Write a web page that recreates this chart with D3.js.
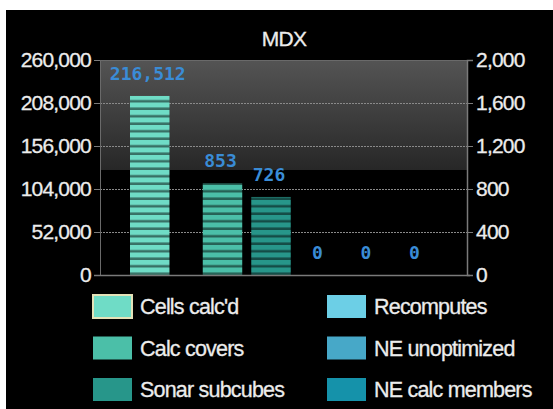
<!DOCTYPE html>
<html>
<head>
<meta charset="utf-8">
<script src="https://cdn.jsdelivr.net/npm/d3@7/dist/d3.min.js"></script>
<style>
  html, body { margin: 0; padding: 0; background: #fff; }
  svg { display: block; }
</style>
</head>
<body>
<svg id="chart" width="553" height="409"></svg>
<script>
// MDX query counters: one series on the left axis, the rest on the right axis
const seriesNames = ["Cells calc'd", "Calc covers", "Sonar subcubes", "Recomputes", "NE unoptimized", "NE calc members"];
const seriesValues = [216512, 853, 726, 0, 0, 0];
const seriesAxis = ["left", "right", "right", "right", "right", "right"];
const seriesColors = ["#6fdcc6", "#4bbfa8", "#27968a", "#6ccfe6", "#47a8c8", "#1592aa"];
const valueLabels = ["216,512", "853", "726", "0", "0", "0"];
const leftTicks = [0, 52000, 104000, 156000, 208000, 260000];
const rightTicks = [0, 400, 800, 1200, 1600, 2000];
const chartTitle = "MDX";

const W = 553, H = 409;
const plot = { left: 100, right: 467, top: 60, bottom: 275 };
const svg = d3.select("#chart");

// frame: white edge on top/left, black canvas
svg.append("rect").attr("width", W).attr("height", H).attr("fill", "#fff");
svg.append("rect").attr("x", 6).attr("y", 10).attr("width", W - 6).attr("height", H - 10).attr("fill", "#000");

const defs = svg.append("defs");
const bg = defs.append("linearGradient").attr("id", "gloss").attr("x1", 0).attr("y1", 0).attr("x2", 0).attr("y2", 1);
bg.append("stop").attr("offset", "0%").attr("stop-color", "#545454");
bg.append("stop").attr("offset", "100%").attr("stop-color", "#272727");

// striped fills for bars
seriesColors.forEach((c, i) => {
  const p = defs.append("pattern")
    .attr("id", "stripe" + i)
    .attr("patternUnits", "userSpaceOnUse")
    .attr("width", 10).attr("height", 7.5)
    .attr("patternTransform", `translate(0,${plot.bottom})`);
  p.append("rect").attr("width", 10).attr("height", 7.5).attr("fill", c);
  p.append("rect").attr("y", 5).attr("width", 10).attr("height", 2.5)
    .attr("fill", d3.color(c).darker(1.9));
});

// glossy upper band of the plot area
svg.append("rect")
  .attr("x", plot.left).attr("y", plot.top)
  .attr("width", plot.right - plot.left).attr("height", 110)
  .attr("fill", "url(#gloss)");

const yL = d3.scaleLinear().domain([0, 260000]).range([plot.bottom, plot.top]);
const yR = d3.scaleLinear().domain([0, 2000]).range([plot.bottom, plot.top]);

const x = d3.scaleBand().domain(seriesNames)
  .range([plot.left + 30, plot.right - 55])
  .paddingInner(0.186).paddingOuter(0);
const barX = (name, i) => x(name) + (seriesAxis[i] === "right" ? x.step() / 2 : 0);

// dotted gridlines
svg.append("g").selectAll("line").data(leftTicks.slice(1, -1)).join("line")
  .attr("x1", plot.left - 6).attr("x2", plot.right + 5)
  .attr("y1", d => yL(d) + 0.5).attr("y2", d => yL(d) + 0.5)
  .attr("stroke", "#8a8a8a").attr("stroke-width", 1)
  .attr("stroke-dasharray", "2,1");

// plot frame
svg.append("line").attr("x1", plot.left).attr("x2", plot.right).attr("y1", plot.top + 0.5).attr("y2", plot.top + 0.5)
  .attr("stroke", "#6a6a6a");
svg.append("line").attr("x1", plot.left + 0.5).attr("x2", plot.left + 0.5).attr("y1", plot.top).attr("y2", plot.bottom)
  .attr("stroke", "#6a6a6a");

// bars
const labelFont = "'DejaVu Sans Mono', 'Liberation Mono', monospace";
seriesNames.forEach((name, i) => {
  const y = seriesAxis[i] === "left" ? yL : yR;
  const v = seriesValues[i];
  const bx = barX(name, i);
  svg.append("rect")
    .attr("x", bx).attr("y", y(v))
    .attr("width", x.bandwidth()).attr("height", y(0) - y(v))
    .attr("fill", `url(#stripe${i})`);
  svg.append("text")
    .attr("x", bx + x.bandwidth() / 2 - 2)
    .attr("y", y(v) - 16)
    .attr("text-anchor", "middle")
    .attr("font-family", labelFont)
    .attr("font-size", 18)
    .attr("font-weight", "bold")
    .attr("fill", "#3a8cd6")
    .text(valueLabels[i]);
});

// axes
const tickFont = "'Liberation Sans', Arial, sans-serif";
const axL = svg.append("g").attr("transform", `translate(${plot.left},0)`)
  .call(d3.axisLeft(yL).tickValues(leftTicks).tickFormat(d3.format(",")).tickSize(6).tickPadding(3));
const axR = svg.append("g").attr("transform", `translate(${plot.right},0)`)
  .call(d3.axisRight(yR).tickValues(rightTicks).tickFormat(d3.format(",")).tickSize(6).tickPadding(3));
[axL, axR].forEach(ax => {
  ax.select(".domain").attr("stroke", "#7a7a7a").attr("stroke-width", 1.5);
  ax.selectAll(".tick line").attr("stroke", "#7a7a7a");
  ax.selectAll(".tick text")
    .attr("font-family", tickFont).attr("font-size", 21)
    .attr("fill", "#ececec").attr("letter-spacing", "-0.8px")
    .attr("stroke", "#ececec").attr("stroke-width", 0.3);
});
axL.select(".domain").attr("stroke", "none");

// baseline
svg.append("line").attr("x1", plot.left - 6).attr("x2", plot.right + 3)
  .attr("y1", plot.bottom + 0.5).attr("y2", plot.bottom + 0.5)
  .attr("stroke", "#7a7a7a").attr("stroke-width", 1.5);

// title
svg.append("text").attr("x", 284).attr("y", 46)
  .attr("text-anchor", "middle")
  .attr("font-family", tickFont).attr("font-size", 21)
  .attr("fill", "#ececec").attr("letter-spacing", "-0.8px")
  .attr("stroke", "#ececec").attr("stroke-width", 0.3)
  .text(chartTitle);

// legend: two columns of three
const legend = svg.append("g");
seriesNames.forEach((name, i) => {
  const col = Math.floor(i / 3), row = i % 3;
  const gx = 93 + col * 234, gy = 295 + row * 41.5;
  legend.append("rect")
    .attr("x", gx).attr("y", gy).attr("width", 39).attr("height", 23)
    .attr("fill", seriesColors[i])
    .attr("stroke", i === 0 ? "#e4e2b8" : "none").attr("stroke-width", 2);
  legend.append("text")
    .attr("x", gx + 47).attr("y", gy + 19)
    .attr("font-family", tickFont).attr("font-size", 21.5)
    .attr("fill", "#ececec").attr("letter-spacing", "-0.8px")
    .attr("stroke", "#ececec").attr("stroke-width", 0.3)
    .text(name);
});
</script>
</body>
</html>
